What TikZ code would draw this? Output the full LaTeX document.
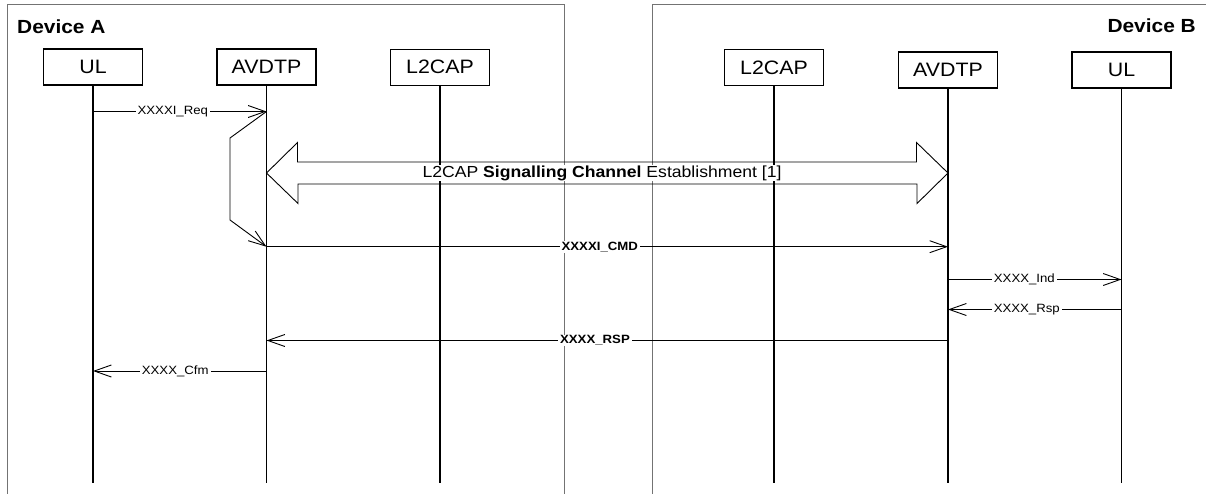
\documentclass[tikz,border=0pt]{standalone}
\usepackage{fontspec}
\setmainfont{Liberation Sans}[FakeStretch=1.1]
\usetikzlibrary{arrows.meta}
\begin{document}
\begin{tikzpicture}[x=1pt,y=-1pt,
  frame/.style={draw=black!55,line width=1pt},
  entity/.style={draw,line width=1.1pt,minimum width=99pt,minimum height=36pt,inner sep=0pt,font=\fontsize{19.4}{21}\selectfont},
  life/.style={line width=1.3pt},
  msg/.style={line width=0.9pt,-{Straight Barb[length=17pt,width=12pt]}},
  lbl/.style={fill=white,inner xsep=2pt,inner ysep=1pt,font=\fontsize{12}{13}\selectfont},
  blbl/.style={fill=white,inner xsep=2pt,inner ysep=1pt,font=\bfseries\fontsize{12}{13}\selectfont},
  dev/.style={font=\bfseries\fontsize{19}{21}\selectfont,inner sep=0pt},
  bigarrow/.style={line width=0.9pt}]
\useasboundingbox (0,0) rectangle (1206,493);
% device frames
\draw[frame] (7,500) -- (7,4) -- (564,4) -- (564,500);
\draw[frame] (652,500) -- (652,4) -- (1215,4);
\node[dev,anchor=west] (devA) at (17,26.5) {Device A};
\node[dev,anchor=east] (devB) at (1196,26) {Device B};
% entities
\node[entity] (ulA) at (93,67) {UL};
\node[entity] (avA) at (266.5,67) {AVDTP};
\node[entity] (l2A) at (440,67.3) {L2CAP};
\node[entity] (l2B) at (774,67.5) {L2CAP};
\node[entity] (avB) at (948,70) {AVDTP};
\node[entity] (ulB) at (1121.5,70) {UL};
% lifelines
\coordinate (bot) at (0,482.7);
\foreach \n in {ulA,avA,l2A,l2B,avB,ulB}
  \draw[life] (\n.south) -- (\n.south |- bot);
% message rows
\coordinate (yReq) at (0,111.5);
\coordinate (yBig) at (0,173);
\coordinate (yCmd) at (0,246.7);
\coordinate (yInd) at (0,279.5);
\coordinate (yRsp) at (0,309.5);
\coordinate (yRSP) at (0,340.5);
\coordinate (yCfm) at (0,371);
% big double arrow
\draw[bigarrow] (avA.south |- yBig) -- ++(31,-30.5) -- ++(0,19.5) -- ++(619,0) -- ++(0,-19.5)
  -- (avB.south |- yBig) -- ++(-31,30.5) -- ++(0,-19.5) -- ++(-619,0) -- ++(0,19.5) -- cycle;
\node[fill=white,inner xsep=1pt,inner ysep=1pt,font=\fontsize{16}{18}\selectfont] (big) at (602,173)
  {L2CAP \textbf{Signalling Channel} Establishment [1]};
% messages
\draw[msg] (ulA.south |- yReq) -- node[lbl,pos=0.46] (lReq) {XXXXI\_Req} (avA.south |- yReq);
\draw[msg] (avA.south |- yReq) -- (230,138) -- (230,220) -- (avA.south |- yCmd);
\draw[msg] (avA.south |- yCmd) -- node[blbl,pos=0.489] (lCmd) {XXXXI\_CMD} (avB.south |- yCmd);
\draw[msg] (avB.south |- yInd) -- node[lbl,pos=0.44] (lInd) {XXXX\_Ind} (ulB.south |- yInd);
\draw[msg] (ulB.south |- yRsp) -- node[lbl,pos=0.546] (lRsp) {XXXX\_Rsp} (avB.south |- yRsp);
\draw[msg] (avB.south |- yRSP) -- node[blbl,pos=0.518] (lRSP) {XXXX\_RSP} (avA.south |- yRSP);
\draw[msg] (avA.south |- yCfm) -- node[lbl,pos=0.526] (lCfm) {XXXX\_Cfm} (ulA.south |- yCfm);
\end{tikzpicture}
\end{document}
